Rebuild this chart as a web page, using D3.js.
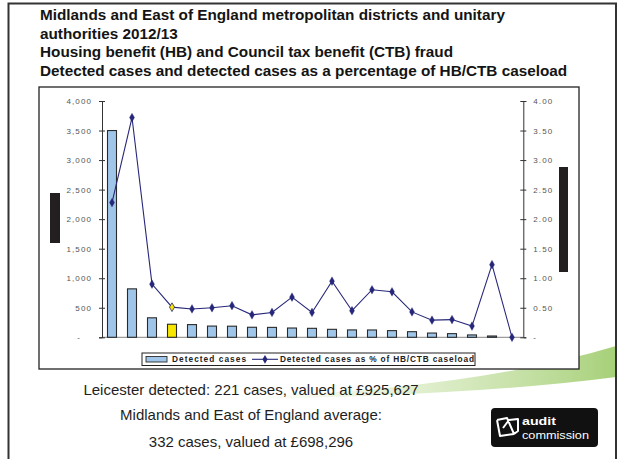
<!DOCTYPE html>
<html><head><meta charset="utf-8">
<script src="https://cdn.jsdelivr.net/npm/d3@7"></script>
<style>html,body{margin:0;padding:0;background:#fff;}svg{display:block;}</style>
</head><body>
<svg id="c" width="618" height="459"></svg>
<script>
// ---- data ----
const titleLines = [
  "Midlands and East of England metropolitan districts and unitary",
  "authorities 2012/13",
  "Housing benefit (HB) and Council tax benefit (CTB) fraud",
  "Detected cases and detected cases as a percentage of HB/CTB caseload"
];
const categories = ["A1","A2","A3","Leicester","A5","A6","A7","A8","A9","A10","A11","A12","A13","A14","A15","A16","A17","A18","A19","A20","A21"];
const detectedCases = [3500, 820, 330, 221, 215, 190, 188, 170, 168, 157, 152, 135, 125, 124, 113, 95, 72, 62, 40, 22, 0];
const detectedPct = [2.28, 3.72, 0.90, 0.51, 0.48, 0.50, 0.535, 0.38, 0.42, 0.68, 0.42, 0.95, 0.45, 0.805, 0.77, 0.43, 0.29, 0.30, 0.19, 1.23, 0.00];
const highlight = "Leicester";
const leftTicks = [0, 500, 1000, 1500, 2000, 2500, 3000, 3500, 4000];
const rightTicks = [0, 0.5, 1, 1.5, 2, 2.5, 3, 3.5, 4];
const legendLabels = ["Detected cases", "Detected cases as % of HB/CTB caseload"];
const footerLines = [
  "Leicester detected: 221 cases, valued at £925,627",
  "Midlands and East of England average:",
  "332 cases, valued at £698,296"
];

// ---- drawing ----
const svg = d3.select("#c");
const FONT = "'Liberation Sans', Arial, sans-serif";
const barFill = "#9fc6e8", lineCol = "#27277a";

// green swoosh (behind everything)
const defs = svg.append("defs");
const grad = defs.append("linearGradient").attr("id","sw").attr("x1","0").attr("x2","1").attr("y1","0").attr("y2","0");
grad.append("stop").attr("offset","0").attr("stop-color","#d3e8b8").attr("stop-opacity",0);
grad.append("stop").attr("offset","0.4").attr("stop-color","#cde4ae").attr("stop-opacity",0.5);
grad.append("stop").attr("offset","1").attr("stop-color","#a6d078").attr("stop-opacity",1);
svg.append("path")
  .attr("d","M240,397 Q470,390 616,346 L616,377 Q480,395 240,399.5 Z")
  .attr("fill","url(#sw)");

// outer frame
svg.append("path").attr("d","M8.5,459 V3.5 H616 V459").attr("fill","none").attr("stroke","#333").attr("stroke-width",2);

// title
svg.append("g").selectAll("text").data(titleLines).join("text")
  .attr("x", 40).attr("y", (d,i) => [20, 38.5, 57, 75.5][i])
  .attr("font-family", FONT).attr("font-weight","bold").attr("font-size", 15.3)
  .attr("fill","#141414").text(d => d);

// chart box
svg.append("rect").attr("x",39).attr("y",87).attr("width",540).attr("height",282)
  .attr("fill","#fff").attr("stroke","#222").attr("stroke-width",1.3);

// redaction bars (axis titles)
svg.append("rect").attr("x",50).attr("y",193).attr("width",10).attr("height",50).attr("fill","#231f20");
svg.append("rect").attr("x",559).attr("y",167).attr("width",9).attr("height",105).attr("fill","#231f20");

// scales
const x = d3.scaleBand().domain(categories).range([102, 522]).paddingInner(0.55).paddingOuter(0.275);
const yL = d3.scaleLinear().domain([0, 4000]).range([337.3, 101]);
const yR = d3.scaleLinear().domain([0, 4]).range([337.3, 101]);

// baseline
svg.append("line").attr("x1",102).attr("x2",523).attr("y1",yL(0)).attr("y2",yL(0)).attr("stroke","#666").attr("stroke-width",0.8);

// axes
function styleAxis(g) {
  g.select(".domain").attr("stroke","#333").attr("stroke-width",1);
  g.selectAll(".tick line").attr("stroke","#333").attr("x1",-3).attr("x2",3);
  g.selectAll(".tick text").attr("font-family",FONT).attr("font-size",8).attr("fill","#555")
    .attr("letter-spacing", 1.1);
}
const gL = svg.append("g").attr("transform","translate(102,0)")
  .call(d3.axisLeft(yL).tickValues(leftTicks).tickSizeOuter(0).tickSize(3).tickPadding(7)
    .tickFormat(d => d === 0 ? "-" : d3.format(",")(d)));
styleAxis(gL);
gL.selectAll(".tick text").filter(d => d === 0).attr("dx", -11);
const gR = svg.append("g").attr("transform","translate(523.3,0)")
  .call(d3.axisRight(yR).tickValues(rightTicks).tickSizeOuter(0).tickSize(3).tickPadding(7)
    .tickFormat(d => d === 0 ? "-" : d3.format(".2f")(d)));
styleAxis(gR);

// bars
svg.append("g").selectAll("rect").data(categories).join("rect")
  .attr("x", d => x(d)).attr("width", x.bandwidth())
  .attr("y", (d,i) => yL(detectedCases[i]))
  .attr("height", (d,i) => yL(0) - yL(detectedCases[i]))
  .attr("fill", d => d === highlight ? "#f7e600" : barFill)
  .attr("stroke", "#2a2a2a").attr("stroke-width", 1.1);

// line
const cx = d => x(d) + x.bandwidth()/2;
svg.append("path").datum(categories)
  .attr("d", d3.line().x(cx).y((d,i) => yR(detectedPct[i])))
  .attr("fill","none").attr("stroke",lineCol).attr("stroke-width",1.1);
const diamond = d3.symbol(d3.symbolDiamond, 22);
svg.append("g").selectAll("path").data(categories).join("path")
  .attr("transform", (d,i) => `translate(${cx(d)},${yR(detectedPct[i])})`)
  .attr("d", diamond)
  .attr("fill", d => d === highlight ? "#f7e600" : lineCol)
  .attr("stroke", lineCol).attr("stroke-width", d => d === highlight ? 0.8 : 0.3);

// legend
const lg = svg.append("g");
lg.append("rect").attr("x",142).attr("y",353).attr("width",333).attr("height",12.5)
  .attr("fill","#fff").attr("stroke","#222").attr("stroke-width",1);
lg.append("rect").attr("x",146).attr("y",356.5).attr("width",21).attr("height",5.5)
  .attr("fill",barFill).attr("stroke","#2a2a2a").attr("stroke-width",0.9);
lg.append("line").attr("x1",252).attr("x2",278).attr("y1",359.3).attr("y2",359.3).attr("stroke",lineCol).attr("stroke-width",1.1);
lg.append("path").attr("transform","translate(265,359.3)").attr("d",diamond).attr("fill",lineCol);
lg.selectAll("text").data(legendLabels).join("text")
  .attr("x",(d,i)=>[172,280][i]).attr("y",362.4)
  .attr("font-family",FONT).attr("font-weight","bold").attr("font-size",8.3).attr("fill","#222")
  .attr("textLength",(d,i)=>[74,194][i]).attr("lengthAdjust","spacing")
  .text(d=>d);

// footer
svg.append("g").selectAll("text").data(footerLines).join("text")
  .attr("x", 251).attr("y",(d,i)=>[394.5, 420, 447][i]).attr("text-anchor","middle")
  .attr("font-family",FONT).attr("font-size",15).attr("fill","#1e1e1e").text(d=>d);

// logo
const logo = svg.append("g");
logo.append("rect").attr("x",491).attr("y",408).attr("width",107).attr("height",39).attr("rx",4).attr("fill","#111");
logo.append("path").attr("d","M497,420 L507,418 L514,434 M497,420 L500,436 L514,434 M503,428 L509,420 L518,419 L518,431 L514,434")
  .attr("fill","none").attr("stroke","#fff").attr("stroke-width",2).attr("stroke-linejoin","round");
logo.append("text").attr("x",522).attr("y",425).attr("font-family",FONT).attr("font-weight","bold")
  .attr("font-size",11.5).attr("fill","#fff").attr("textLength",34).attr("lengthAdjust","spacingAndGlyphs").text("audit");
logo.append("text").attr("x",522).attr("y",438.5).attr("font-family",FONT)
  .attr("font-size",10.5).attr("fill","#fff").attr("textLength",67).attr("lengthAdjust","spacingAndGlyphs").text("commission");
</script>
</body></html>
